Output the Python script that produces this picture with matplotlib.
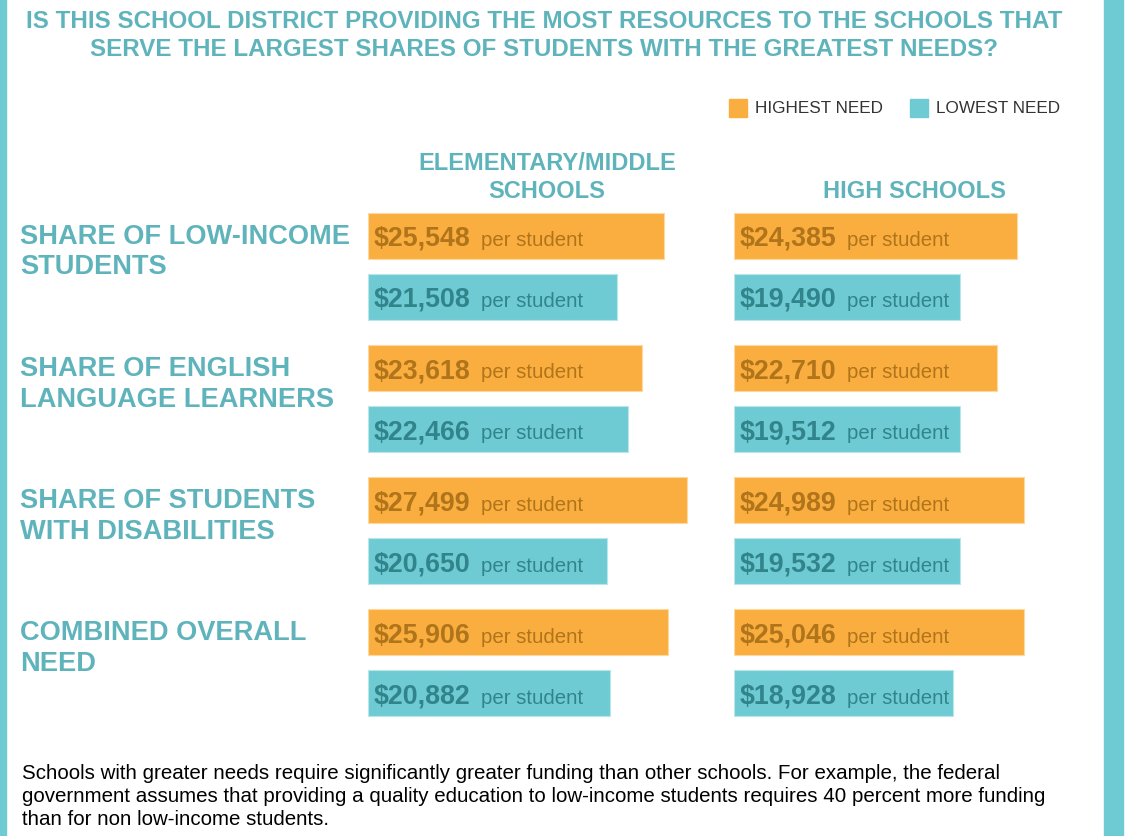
import matplotlib.pyplot as plt
from matplotlib.patches import Rectangle

plt.rcParams['font.family'] = ['Liberation Sans', 'DejaVu Sans']

# data
needs = ["SHARE OF LOW-INCOME\nSTUDENTS", "SHARE OF ENGLISH\nLANGUAGE LEARNERS",
         "SHARE OF STUDENTS\nWITH DISABILITIES", "COMBINED OVERALL\nNEED"]
elem_high = [25548, 23618, 27499, 25906]
elem_low = [21508, 22466, 20650, 20882]
hs_high = [24385, 22710, 24989, 25046]
hs_low = [19490, 19512, 19532, 18928]

W, H = 1127, 837
ORANGE = '#FBAE40'
TEAL = '#6ECBD3'
TEAL_TXT = '#5FB4BC'
ORANGE_DARK = '#B0741A'
TEAL_DARK = '#32848B'

fig = plt.figure(figsize=(W / 100, H / 100), dpi=100)


def fx(px):
    return px / W


def fy(py):
    return 1 - py / H


# side strips
fig.patches.append(Rectangle((0, 0), fx(6), 1, transform=fig.transFigure, color=TEAL, zorder=0))
fig.patches.append(Rectangle((fx(1104), 0), fx(19), 1, transform=fig.transFigure, color=TEAL, zorder=0))

fig.text(fx(544), fy(22), "IS THIS SCHOOL DISTRICT PROVIDING THE MOST RESOURCES TO THE SCHOOLS THAT",
         ha='center', va='center', fontsize=17.35, fontweight='bold', color=TEAL_TXT)
fig.text(fx(544), fy(50), "SERVE THE LARGEST SHARES OF STUDENTS WITH THE GREATEST NEEDS?",
         ha='center', va='center', fontsize=17.35, fontweight='bold', color=TEAL_TXT)

# legend
for x0, col, lab in [(729, ORANGE, "HIGHEST NEED"), (910, TEAL, "LOWEST NEED")]:
    fig.patches.append(Rectangle((fx(x0), fy(118)), fx(18), 18 / H, transform=fig.transFigure, color=col))
    fig.text(fx(x0 + 26), fy(109), lab, ha='left', va='center', fontsize=12.3, color='#333333')

fig.text(fx(547), fy(163), "ELEMENTARY/MIDDLE", ha='center', va='center',
         fontsize=17, fontweight='bold', color=TEAL_TXT)
fig.text(fx(547), fy(191), "SCHOOLS", ha='center', va='center',
         fontsize=17, fontweight='bold', color=TEAL_TXT)
fig.text(fx(914), fy(191), "HIGH SCHOOLS", ha='center', va='center',
         fontsize=17, fontweight='bold', color=TEAL_TXT)

# bar panels
scale = 296 / 25548  # px per dollar
xmax = 30000
unit = 132.3
top_px, bot_px = 200, 730
y0 = -(236.5 - top_px) / unit
y1 = (bot_px - 236.5) / unit
off = 61 / unit
bh = 46 / unit

for left_px, high, low in [(368, elem_high, elem_low), (734, hs_high, hs_low)]:
    ax = fig.add_axes([fx(left_px), fy(bot_px), fx(xmax * scale), (bot_px - top_px) / H])
    ax.set_xlim(0, xmax)
    ax.set_ylim(y1, y0)
    ax.axis('off')
    pos = list(range(len(high)))
    ax.barh(pos, high, height=bh, color=ORANGE, edgecolor='#FDD9A0', linewidth=0.8)
    ax.barh([p + off for p in pos], low, height=bh, color=TEAL, edgecolor='#B8E6EA', linewidth=0.8)
    for p, hv, lv in zip(pos, high, low):
        for yy, v, tc in [(p, hv, ORANGE_DARK), (p + off, lv, TEAL_DARK)]:
            ax.annotate(f"${v:,}", (0, yy), xytext=(6 * 0.72, -9.5 * 0.72), textcoords='offset points',
                        ha='left', va='baseline', fontsize=19.3, fontweight='bold', color=tc)
            ax.annotate("per student", (0, yy), xytext=(113 * 0.72, -9.5 * 0.72), textcoords='offset points',
                        ha='left', va='baseline', fontsize=14.7, color=tc)

# row labels
for i, lab in enumerate(needs):
    l1, l2 = lab.split("\n")
    yc = 236.5 + i * unit
    fig.text(fx(20), fy(yc), l1, ha='left', va='center', fontsize=19.6, fontweight='bold', color=TEAL_TXT)
    fig.text(fx(20), fy(yc + 31), l2, ha='left', va='center', fontsize=19.6, fontweight='bold', color=TEAL_TXT)

footer = ["Schools with greater needs require significantly greater funding than other schools. For example, the federal",
          "government assumes that providing a quality education to low-income students requires 40 percent more funding",
          "than for non low-income students."]
for i, line in enumerate(footer):
    fig.text(fx(22), fy(774 + i * 23), line, ha='left', va='center', fontsize=14.8, color='black')

fig.savefig("out.png", dpi=100)
